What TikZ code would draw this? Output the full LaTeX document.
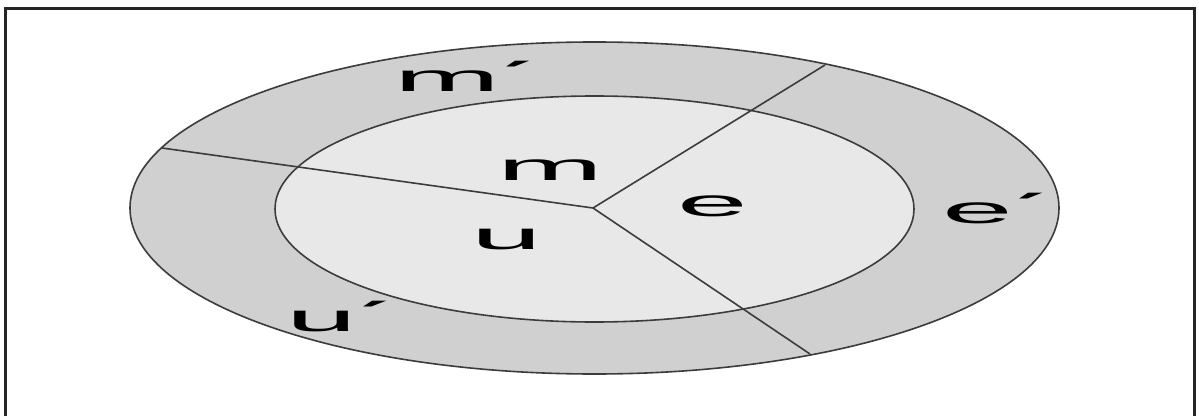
\documentclass[tikz,border=0pt]{standalone}
\usepackage{fontspec}
\setmainfont{Liberation Sans}
\newfontfamily\primefont{DejaVu Sans}
\definecolor{ringgray}{RGB}{208,208,208}
\definecolor{innergray}{RGB}{232,232,232}
\definecolor{linegray}{RGB}{60,60,60}
\newcommand{\lbl}[1]{\scalebox{3.3}[1]{\fontsize{38.5}{38.5}\selectfont #1}}
\newcommand{\prm}{\kern1.5pt\raisebox{7pt}{\primefont\bfseries\fontsize{32}{32}\selectfont ′}}
\begin{document}
\begin{tikzpicture}[x=1pt,y=1pt,
  divider/.style={draw=linegray,line width=1.6pt},
  ring/.style={draw=linegray,line width=1.6pt},
  lab/.style={inner sep=0pt,outer sep=0pt,text=black}]
\useasboundingbox (0,0) rectangle (1199,416);
% frame
\draw[line width=2.5pt,black!85] (5.5,0) -- (5.5,407.5) -- (1194.5,407.5) -- (1194.5,0);
% ellipses
\filldraw[ring,fill=ringgray] (594.5,208) ellipse [x radius=464.5pt, y radius=166pt];
\filldraw[ring,fill=innergray] (594.5,207) ellipse [x radius=319.5pt, y radius=113pt];
% dividers
\coordinate (c) at (593,208);
\coordinate (ur) at (825,351);
\coordinate (lr) at (810,62);
\coordinate (lf) at (162,268);
\draw[divider] (c) -- (ur);
\draw[divider] (c) -- (lr);
\draw[divider] (c) -- (lf);
% labels
\node[lab,anchor=base west] (mp) at (394,324) {\lbl{m\prm}};
\node[lab,anchor=base west] (ep) at (942,193) {\lbl{e\prm}};
\node[lab,anchor=base west] (up) at (286,85) {\lbl{u\prm}};
\node[lab] (m) at (550,245.5) {\lbl{m}};
\node[lab] (e) at (713,210) {\lbl{e}};
\node[lab] (u) at (507,176) {\lbl{u}};
\end{tikzpicture}
\end{document}
